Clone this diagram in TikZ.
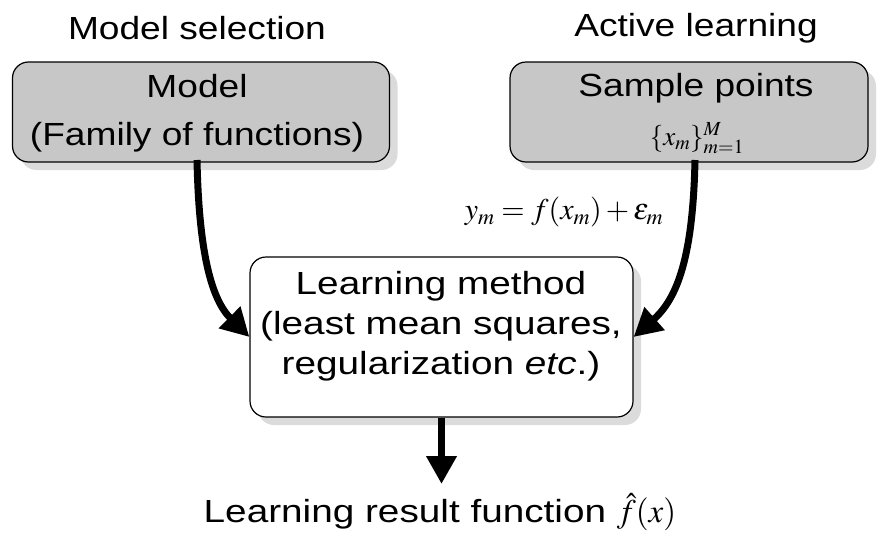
\documentclass[tikz,border=0pt]{standalone}
\usepackage{mathptmx}
\usepackage{fontspec}
\setmainfont{Liberation Sans}
\newfontfamily\fa{Liberation Sans}[FakeStretch=1.16]
\newfontfamily\fb{Liberation Sans}[FakeStretch=1.21]
\usetikzlibrary{arrows.meta,shadows}
\begin{document}
\begin{tikzpicture}[x=1pt,y=-1pt,
  box/.style={draw=black,line width=1.2pt,rounded corners=16pt,inner sep=0pt,
    drop shadow={shadow xshift=8pt,shadow yshift=-8pt,fill=black!14,opacity=1}},
  graybox/.style={box,fill=black!22},
  whitebox/.style={box,fill=white},
  ta/.style={font=\fa\fontsize{32}{48}\selectfont,align=center,inner sep=0pt},
  tb/.style={font=\fb\fontsize{32}{40}\selectfont,align=center,inner sep=0pt},
  flow/.style={line width=7pt,-{Triangle[length=28pt,width=29pt]}}]
\useasboundingbox (0,0) rectangle (878,541);
\node[ta] (tmodel) at (197,28) {Model selection};
\node[ta] (tactive) at (696,28) {Active learning};
\node[graybox,minimum width=377pt,minimum height=100pt] (model) at (201,112) {};
\node[ta] (mtext) at (197,113) {Model\\(Family of functions)};
\node[graybox,minimum width=358pt,minimum height=100pt] (sample) at (689,112) {};
\node[ta] (stext) at (696,88) {Sample points};
\node (sset) at (697,138) {\fontsize{27}{30}\selectfont$\{x_m\}_{m=1}^{M}$};
\node[whitebox,minimum width=383pt,minimum height=160pt] (learn) at (441.5,337) {};
\node[tb] (ltext) at (441,326) {Learning method\\(least mean squares,\\ regularization \textit{etc}.)};
\node (eq) at (564,212) {\fontsize{30}{34}\selectfont$y_m = f(x_m) + \varepsilon_m$};
\node[tb] (result) at (440,512) {Learning result function {\fontsize{33}{36}\selectfont$\hat{f}(x)$}};
\coordinate (mout) at (197,160);
\coordinate (sout) at (695,160);
\draw[flow] (mout) .. controls (199,255) and (212,300) .. (learn.west);
\draw[flow] (sout) .. controls (693,255) and (678,298) .. (learn.east);
\draw[flow] (learn.south) -- (441.5,484);
\end{tikzpicture}
\end{document}
